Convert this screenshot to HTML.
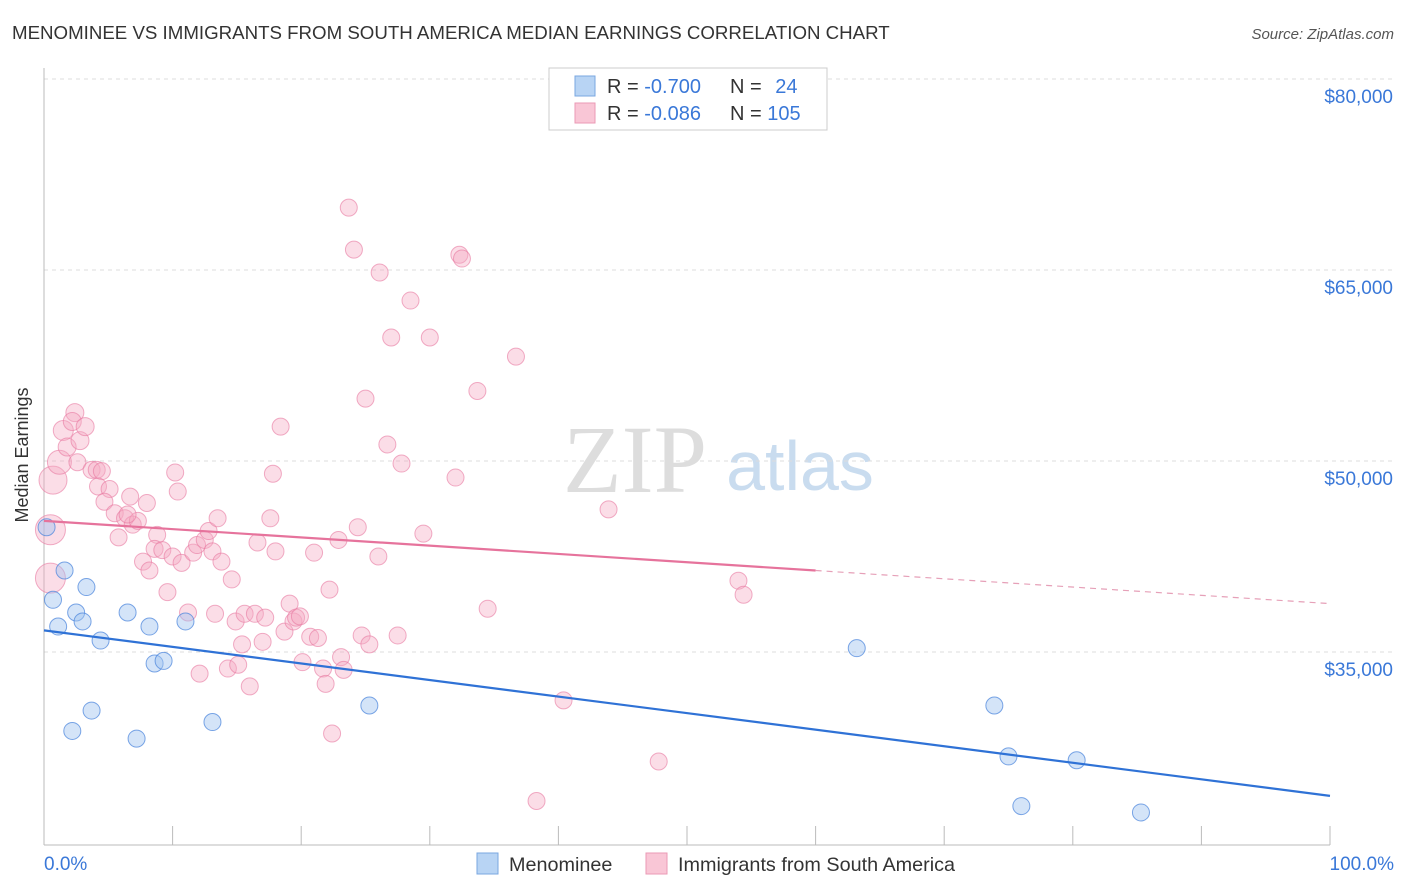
<!DOCTYPE html>
<html><head><meta charset="utf-8"><style>
body{margin:0;background:#fff;font-family:"Liberation Sans",sans-serif}
svg{display:block}
</style></head><body>
<svg id="c" width="1406" height="892">
<text x="12" y="39" font-size="18.7" fill="#333">MENOMINEE VS IMMIGRANTS FROM SOUTH AMERICA MEDIAN EARNINGS CORRELATION CHART</text>
<text x="1394" y="39" font-size="15" fill="#555" font-style="italic" text-anchor="end">Source: ZipAtlas.com</text>
<text x="34" y="455" font-size="18" fill="#333" text-anchor="middle" transform="rotate(-90 34 455)" dy="-6">Median Earnings</text>
<g><text x="635" y="492" font-size="96" font-family="Liberation Serif,serif" fill="#ddd" text-anchor="middle">ZIP</text><text x="800" y="490" font-size="70" fill="#c9dcef" text-anchor="middle">atlas</text></g>
<g id="grid"></g><g id="axes"></g><g id="marks"></g>
<g>
<rect x="549" y="68" width="278" height="62" fill="#fff" stroke="#ccc"/>
<rect x="575" y="76" width="20" height="20" fill="#b8d4f4" stroke="#7aa7e0"/>
<rect x="575" y="103" width="20" height="20" fill="#f9c6d6" stroke="#eb9ab5"/>
<text x="607" y="93" font-size="20" fill="#333">R = <tspan fill="#3a78d8">-0.700</tspan></text>
<text x="730" y="93" font-size="20" fill="#333">N = <tspan fill="#3a78d8" dx="8">24</tspan></text>
<text x="607" y="120" font-size="20" fill="#333">R = <tspan fill="#3a78d8">-0.086</tspan></text>
<text x="730" y="120" font-size="20" fill="#333">N = <tspan fill="#3a78d8">105</tspan></text>
</g>
<g>
<rect x="477" y="853" width="21" height="21" fill="#b8d4f4" stroke="#7aa7e0"/>
<text x="509" y="871" font-size="19.8" fill="#333">Menominee</text>
<rect x="646" y="853" width="21" height="21" fill="#f9c6d6" stroke="#eb9ab5"/>
<text x="678" y="871" font-size="19.8" fill="#333">Immigrants from South America</text>
</g>
</svg>
<script>
const yTicks=[80000,65000,50000,35000];
const yTickLabels=["$80,000","$65,000","$50,000","$35,000"];
const blueX=[0.2,0.7,1.1,1.6,2.2,2.5,3.0,3.3,3.7,4.4,6.5,7.2,8.2,8.6,9.3,11.0,13.1,25.3,63.2,73.9,75.0,76.0,80.3,85.3];
const blueY=[44800,39100,37000,41400,28800,38100,37400,40100,30400,35900,38100,28200,37000,34100,34300,37400,29500,30800,35300,30800,26800,22900,26500,22400];
const pinkX=[0.7,0.5,0.5,1.2,1.5,1.8,2.4,2.2,2.8,3.2,2.6,3.7,4.1,4.5,4.2,5.1,4.7,5.5,5.8,6.3,6.7,6.9,7.3,8.0,6.5,7.7,8.2,8.8,8.6,9.2,9.6,10.0,10.2,10.4,10.7,11.2,11.6,11.9,12.1,12.5,12.8,13.1,13.3,13.5,13.8,14.3,14.6,15.1,14.9,15.4,15.6,16.0,16.4,16.6,17.0,17.2,17.6,17.8,18.0,18.4,18.7,19.1,19.4,19.6,19.9,20.1,20.7,21.0,21.3,21.7,21.9,22.2,22.4,22.9,23.1,23.3,23.7,24.1,24.4,24.7,25.0,25.3,26.0,26.1,26.7,27.0,27.5,27.8,28.5,29.5,30.0,32.0,32.3,32.5,33.7,34.5,36.7,38.3,40.4,43.9,47.8,54.0,54.4];
const pinkY=[48500,44600,40800,49900,52400,51100,53800,53100,51600,52700,49900,49300,49300,49200,48000,47800,46800,45900,44000,45500,47200,45000,45300,46700,45800,42100,41400,44200,43100,43000,39700,42500,49100,47600,42000,38100,42800,43400,33300,43800,44500,42900,38000,45500,42100,33700,40700,34000,37400,35600,38000,32300,38000,43600,35800,37700,45500,49000,42900,52700,36600,38800,37400,37700,37800,34200,36200,42800,36100,33700,32500,39900,28600,43800,34600,33600,69900,66600,44800,36300,54900,35600,42500,64800,51300,59700,36300,49800,62600,44300,59700,48700,66200,65900,55500,38400,58200,23300,31200,46200,26400,40600,39500];
const pinkR=[14,15,15,12,10,9,9,9,9,9];
const blueTrend=[36700,23700];
const pinkTrend=[45300,41400,38800];
const NS='http://www.w3.org/2000/svg';
const X=p=>44+p*12.86, Y=v=>79+(80000-v)*191/15000;
function mk(t,a,parent){const e=document.createElementNS(NS,t);for(const k in a)e.setAttribute(k,a[k]);document.getElementById(parent).appendChild(e);return e;}
yTicks.forEach((v,i)=>{
 const g=mk('line',{x1:44,x2:1394,y1:Y(v),y2:Y(v),stroke:'#ddd','stroke-dasharray':'4,4'},'grid');
 
 
 const t=mk('text',{x:1393,y:Y(v)+24,'font-size':19,fill:'#3a78d8','text-anchor':'end'},'axes');t.textContent=yTickLabels[i];
 
 
});
const ax=mk('line',{x1:44,x2:1330,y1:845,y2:845,stroke:'#bbb'},'axes');


const ay=mk('line',{x1:44,x2:44,y1:68,y2:845,stroke:'#bbb'},'axes');


for(let i=0;i<=10;i++){const t=mk('line',{x1:X(i*10),x2:X(i*10),y1:826,y2:845,stroke:'#bbb'},'axes');
 
 }
const l0=mk('text',{x:44,y:870,'font-size':19,fill:'#3a78d8'},'axes');l0.textContent='0.0%';


const l1=mk('text',{x:1394,y:870,'font-size':19,fill:'#3a78d8','text-anchor':'end'},'axes');l1.textContent='100.0%';


pinkX.forEach((x,i)=>{const c=mk('circle',{cx:X(x),cy:Y(pinkY[i]),r:pinkR[i]||8.5,fill:'rgba(246,170,196,0.4)',stroke:'rgba(232,120,160,0.6)','stroke-width':1},'marks');
 
 });
blueX.forEach((x,i)=>{const c=mk('circle',{cx:X(x),cy:Y(blueY[i]),r:8.5,fill:'rgba(160,196,240,0.45)',stroke:'rgba(70,130,220,0.7)','stroke-width':1},'marks');
 
 });
const bl=mk('line',{x1:X(0),y1:Y(blueTrend[0]),x2:X(100),y2:Y(blueTrend[1]),stroke:'#2f72d6','stroke-width':2.2},'marks');


const pl=mk('line',{x1:X(0),y1:Y(pinkTrend[0]),x2:X(60),y2:Y(pinkTrend[1]),stroke:'#e6739c','stroke-width':2.2},'marks');


const pd=mk('line',{x1:X(60),y1:Y(pinkTrend[1]),x2:X(100),y2:Y(pinkTrend[2]),stroke:'#e6a0b8','stroke-width':1.2,'stroke-dasharray':'6,5'},'marks');


</script>
</body></html>
